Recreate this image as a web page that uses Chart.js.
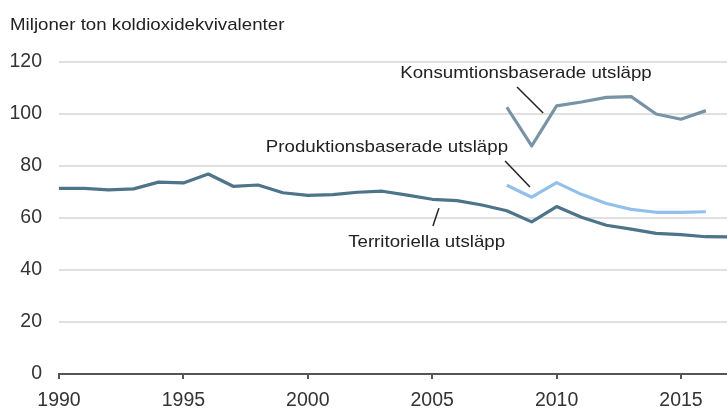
<!DOCTYPE html>
<html>
<head>
<meta charset="utf-8">
<script src="https://cdn.jsdelivr.net/npm/chart.js@4"></script>
<style>
	html, body { margin: 0; padding: 0; background: #fff; }
	#wrap { width: 727px; height: 409px; position: relative; }
</style>
</head>
<body>
<div id="wrap"><canvas id="myChart"></canvas></div>
<script>
const YEARS = [1990, 1991, 1992, 1993, 1994, 1995, 1996, 1997, 1998, 1999, 2000, 2001, 2002, 2003, 2004, 2005, 2006, 2007, 2008, 2009, 2010, 2011, 2012, 2013, 2014, 2015, 2016, 2017];
const TERRITORIELLA = [71.4, 71.4, 70.8, 71.2, 73.8, 73.5, 76.9, 72.2, 72.7, 69.7, 68.7, 69.0, 69.9, 70.3, 68.8, 67.2, 66.7, 65.0, 62.8, 58.5, 64.4, 60.3, 57.2, 55.7, 54.1, 53.6, 52.8, 52.7];

const NEW_YEARS = [2008, 2009, 2010, 2011, 2012, 2013, 2014, 2015, 2016];
const PRODUKTION = [72.6, 68.0, 73.6, 69.1, 65.6, 63.3, 62.2, 62.2, 62.4];
const KONSUMTION = [102.6, 87.7, 103.1, 104.6, 106.4, 106.7, 100.0, 98.0, 101.3];

const X_TICKS = [1990, 1995, 2000, 2005, 2010, 2015];
const Y_TICKS = [0, 20, 40, 60, 80, 100, 120];

const UNIT = 'Miljoner ton koldioxidekvivalenter';

// label text + leader line, in data coordinates
const NOTES = [
	{ text: 'Konsumtionsbaserade utsläpp', x: 2008.77, y: 115.8, align: 'center', line: [2008.41, 110.4, 2009.46, 100.4] },
	{ text: 'Produktionsbaserade utsläpp', x: 2008.05, y: 87.3, align: 'right', line: [2007.93, 81.9, 2008.93, 71.9] },
	{ text: 'Territoriella utsläpp', x: 2007.93, y: 50.8, align: 'right', line: [2005.27, 63.8, 2005.03, 56.9] }
];

const TEXT_FONT = '17px "Liberation Sans", Arial, sans-serif';
const STRETCH = 1.1;

const toPoints = (xs, ys) => xs.map((x, i) => ({ x, y: ys[i] }));

function stretchedText(ctx, text, x, y, align) {
	const w = ctx.measureText(text).width * STRETCH;
	let left = x;
	if (align === 'center') left = x - w / 2;
	else if (align === 'right') left = x - w;
	ctx.save();
	ctx.translate(left, y);
	ctx.scale(STRETCH, 1);
	ctx.textAlign = 'left';
	ctx.fillText(text, 0, 0);
	ctx.restore();
}

const notesPlugin = {
	id: 'notes',
	afterDraw(chart) {
		const { ctx, scales: { x, y } } = chart;
		ctx.save();
		ctx.font = TEXT_FONT;
		ctx.fillStyle = '#222';
		ctx.textBaseline = 'alphabetic';
		stretchedText(ctx, UNIT, 10, 30, 'left');

		ctx.textBaseline = 'middle';
		ctx.strokeStyle = '#222';
		ctx.lineWidth = 1.5;
		for (const n of NOTES) {
			stretchedText(ctx, n.text, x.getPixelForValue(n.x), y.getPixelForValue(n.y), n.align);
			const [x1, y1, x2, y2] = n.line;
			ctx.beginPath();
			ctx.moveTo(x.getPixelForValue(x1), y.getPixelForValue(y1));
			ctx.lineTo(x.getPixelForValue(x2), y.getPixelForValue(y2));
			ctx.stroke();
		}
		ctx.restore();
	}
};

const AXIS_FONT = { family: '"Liberation Sans", Arial, sans-serif', size: 19.5 };

new Chart(document.getElementById('myChart'), {
	type: 'line',
	data: {
		datasets: [
			{ label: 'Territoriella utsläpp', data: toPoints(YEARS, TERRITORIELLA), borderColor: '#4d7489' },
			{ label: 'Produktionsbaserade utsläpp', data: toPoints(NEW_YEARS, PRODUKTION), borderColor: '#92c0ea' },
			{ label: 'Konsumtionsbaserade utsläpp', data: toPoints(NEW_YEARS, KONSUMTION), borderColor: '#7893a5' }
		]
	},
	options: {
		responsive: true,
		maintainAspectRatio: false,
		animation: false,
		elements: {
			line: { borderWidth: 3.2, tension: 0, borderJoinStyle: 'round' },
			point: { radius: 0 }
		},
		layout: { padding: { top: 62, left: 0, right: 0, bottom: 0 } },
		scales: {
			x: {
				type: 'linear',
				min: 1990,
				max: 2016.85,
				afterBuildTicks: scale => { scale.ticks = X_TICKS.map(value => ({ value })) },
				afterFit: scale => { scale.height = 35 },
				grid: { drawOnChartArea: false, drawTicks: true, tickLength: 5, color: '#555', lineWidth: 2 },
				border: { display: true, color: '#555', width: 2 },
				ticks: { font: AXIS_FONT, color: '#333', padding: 10, maxRotation: 0, callback: v => String(v) }
			},
			y: {
				min: 0,
				max: 120,
				afterBuildTicks: scale => { scale.ticks = Y_TICKS.map(value => ({ value })) },
				afterFit: scale => { scale.width = 59 },
				grid: { drawTicks: false, color: '#e0e0e0', lineWidth: 2 },
				border: { display: false },
				ticks: { font: AXIS_FONT, color: '#333', padding: 17 }
			}
		},
		plugins: {
			legend: { display: false },
			tooltip: { enabled: false }
		}
	},
	plugins: [notesPlugin]
});
</script>
</body>
</html>
